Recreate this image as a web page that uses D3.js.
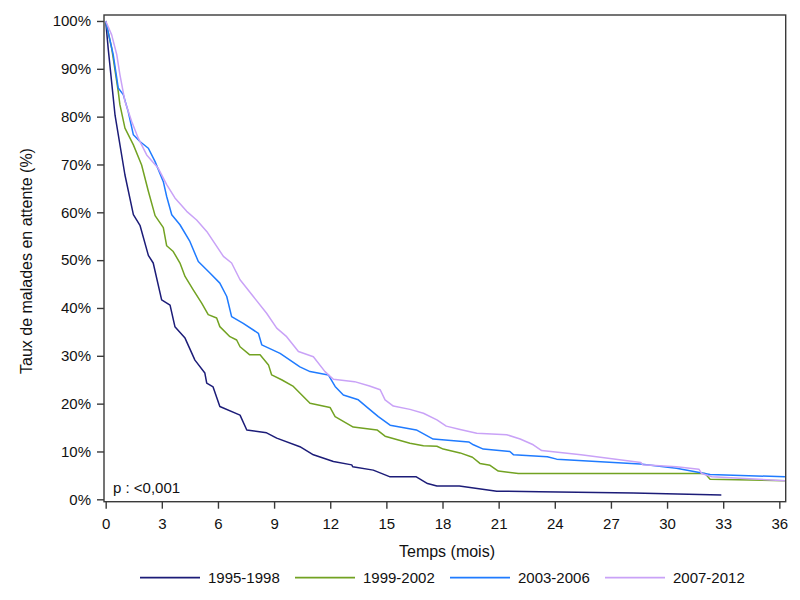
<!DOCTYPE html>
<html><head><meta charset="utf-8">
<script src="https://cdn.jsdelivr.net/npm/d3@7"></script>
<style>body{margin:0;background:#fff}svg{display:block}text{font-family:"Liberation Sans",Arial,sans-serif;fill:#111}</style>
</head><body><svg id="c" width="800" height="600"></svg>
<script>
const seriesNames = ["1995-1998","1999-2002","2003-2006","2007-2012"];
const seriesColors = ["#1c1c78","#72a222","#1f7bff","#c9a2f7"];

const t1995 = [0,0.14,0.5,1.03,1.48,1.84,2.28,2.54,2.99,3.44,3.7,4.24,4.77,5.3,5.4,5.74,6.1,7.18,7.54,8.6,9.14,10.38,11.1,12.17,13.15,13.2,14.3,15.2,16.6,17.2,17.7,18.9,20.9,23.2,28.2,32.9];
const s1995 = [100,94,80.3,67.8,59.5,57.2,51,49.4,41.7,40.6,36.1,33.7,29.1,26.4,24.3,23.5,19.4,17.6,14.5,13.9,12.8,11,9.3,7.9,7.2,6.8,6.1,4.7,4.7,3.3,2.8,2.8,1.7,1.6,1.3,0.9];

const t1999 = [0,0.32,0.67,0.76,1.03,1.48,1.92,2.28,2.64,3.08,3.26,3.61,3.97,4.24,4.68,5.13,5.48,5.93,6.1,6.64,7,7.18,7.7,8.25,8.7,8.87,9.4,10.03,10.48,10.92,11.99,12.26,13.23,14.5,14.93,16.26,16.98,17.7,18.04,18.94,19.6,20,20.54,20.98,22.05,32.03,32.3,36.3];
const s1999 = [100,94.3,85.3,82.5,77.6,74.1,69.9,64.4,59.3,56.8,53,51.8,49.4,46.6,43.8,41,38.6,37.9,36.1,34,33.3,31.9,30.2,30.2,28.1,26,25,23.6,21.8,20.1,19.2,17.3,15.1,14.5,13.2,11.7,11.2,11.1,10.5,9.7,8.8,7.5,7.1,5.9,5.4,5.4,4.2,3.9];

const t2003 = [0,0.4,0.67,0.94,1.2,1.48,1.83,2.28,2.64,3.08,3.26,3.53,3.97,4.5,4.95,5.57,6.1,6.47,6.73,7.35,8.16,8.34,9.32,10.38,10.92,11.9,12.26,12.7,13.5,14.04,14.57,15.2,16.6,17.5,19.4,19.65,20.18,21.6,21.8,23.6,24.1,28.56,30.5,32.3,36.3];
const s2003 = [100,93,86,84.6,81.1,76.2,74.8,73.4,70.6,66.4,63.3,59.5,57.4,53.9,49.7,47.3,45.2,42.4,38.2,36.8,34.7,32.3,30.5,27.7,26.7,26,23.6,21.8,20.8,19,17.3,15.5,14.5,12.6,12,11.4,10.5,10,9.3,8.9,8.4,7.4,6.5,5.2,4.7];

const t2007 = [0,0.32,0.59,0.76,1.03,1.39,1.74,2.19,2.81,3.26,3.7,4.33,4.86,5.4,6.29,6.73,7.18,7.89,8.6,9.14,9.67,10.3,11.1,11.72,12.17,13.3,14.1,14.67,14.93,15.37,16.26,16.98,17.7,18.2,18.94,19.83,21.43,22.15,22.85,23.3,25.4,28.6,28.7,30.5,31.7,31.85,32.4,36.3];
const s2007 = [100,97.1,93,88.8,83.2,79,75.5,72,69.2,65.8,63,60.2,58.4,56,50.8,49.4,45.9,42.4,38.9,35.8,34,30.9,29.8,26.7,25.1,24.6,23.7,22.9,20.8,19.5,18.8,18,16.6,15.3,14.6,13.8,13.5,12.6,11.4,10.2,9.3,7.7,7.2,6.8,6.3,5.4,4.7,3.9];

const xTicks = [0,3,6,9,12,15,18,21,24,27,30,33,36];
const yTicks = [0,10,20,30,40,50,60,70,80,90,100];
const xTitle = "Temps (mois)";
const yTitle = "Taux de malades en attente (%)";
const pText = "p : <0,001";

const times = [t1995,t1999,t2003,t2007];
const survs = [s1995,s1999,s2003,s2007];

const svg = d3.select("#c");
const xMin = -0.09, xMax = 36.34, yMin = -0.5, yMax = 101.25;
const x = d3.scaleLinear().domain([xMin, xMax]).range([104, 785.7]);
const y = d3.scaleLinear().domain([yMin, yMax]).range([501.7, 15]);

const line = d3.line().x(d => x(d[0])).y(d => y(d[1])).curve(d3.curveLinear);
const plot = svg.append("g");
times.forEach((t, i) => {
  const pts = t.map((v, j) => [v, survs[i][j]]);
  plot.append("path").attr("d", line(pts)).attr("fill", "none")
    .attr("stroke", seriesColors[i]).attr("stroke-width", 1.5).attr("stroke-linejoin","round");
});

// frame
svg.append("rect").attr("x", x(xMin)).attr("y", y(yMax))
  .attr("width", x(xMax) - x(xMin)).attr("height", y(yMin) - y(yMax))
  .attr("fill", "none").attr("stroke", "#3a3a3a").attr("stroke-width", 1.4);

const yAxis = svg.append("g").attr("transform", `translate(${x(xMin)},0)`)
  .call(d3.axisLeft(y).tickValues(yTicks).tickFormat(d => d + "%").tickSize(7).tickPadding(6));
const xAxis = svg.append("g").attr("transform", `translate(0,${y(yMin)})`)
  .call(d3.axisBottom(x).tickValues(xTicks).tickSize(7).tickPadding(10));
[yAxis, xAxis].forEach(g => {
  g.select(".domain").remove();
  g.selectAll(".tick line").attr("stroke", "#3a3a3a").attr("stroke-width", 1.4);
  g.selectAll(".tick text").attr("font-size", 15).attr("font-family", '"Liberation Sans",Arial,sans-serif').attr("fill", "#111");
});

svg.append("text").attr("x", 447).attr("y", 557).attr("text-anchor", "middle")
  .attr("font-size", 16).text(xTitle);
svg.append("text").attr("transform", "translate(32,261) rotate(-90)").attr("text-anchor", "middle")
  .attr("font-size", 16).text(yTitle);
svg.append("text").attr("x", 113).attr("y", 493).attr("font-size", 15).text(pText);

// legend
const legX = [140, 295, 450, 605];
const leg = svg.append("g");
seriesNames.forEach((n, i) => {
  leg.append("line").attr("x1", legX[i]).attr("x2", legX[i] + 60).attr("y1", 577.7).attr("y2", 577.7)
    .attr("stroke", seriesColors[i]).attr("stroke-width", 1.8);
  leg.append("text").attr("x", legX[i] + 68).attr("y", 583).attr("font-size", 15).text(n);
});
</script></body></html>
